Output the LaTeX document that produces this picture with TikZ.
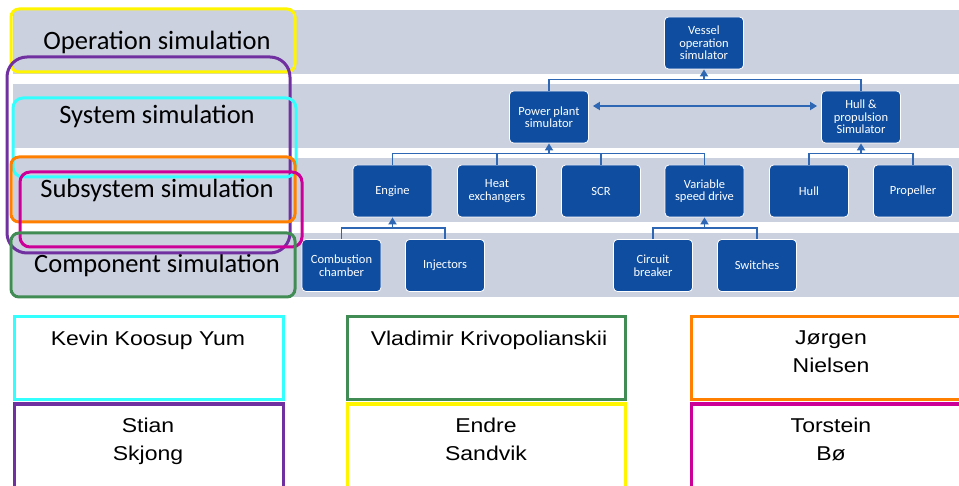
\documentclass[tikz,border=0pt]{standalone}
\usepackage{fontspec}
\setmainfont{Carlito}
\newfontfamily\namefont[FakeStretch=1.15]{Liberation Sans}
\usetikzlibrary{arrows.meta}

\definecolor{band}{RGB}{204,209,224}
\definecolor{boxblue}{RGB}{14,77,160}
\definecolor{linkblue}{RGB}{46,104,180}
\definecolor{ringyellow}{RGB}{255,245,0}
\definecolor{ringpurple}{RGB}{112,48,160}
\definecolor{ringcyan}{RGB}{51,255,255}
\definecolor{ringorange}{RGB}{255,128,0}
\definecolor{ringmagenta}{RGB}{204,0,153}
\definecolor{ringgreen}{RGB}{64,140,84}

\begin{document}
\begin{tikzpicture}[x=1pt, y=-1pt,
    lvl/.style={anchor=base, inner sep=0pt, font=\fontsize{26.5}{31}\selectfont},
    sim/.style={draw=white, line width=0.8pt, fill=boxblue, rounded corners=4pt, text=white, align=center,
                minimum width=79pt, minimum height=52pt, inner sep=1pt, font=\fontsize{12.5}{12.5}\selectfont},
    link/.style={draw=linkblue, line width=1.7pt},
    tip/.tip={Triangle[length=7pt, width=8pt]},
    up/.style={link, -tip},
    ring/.style={line width=3pt},
    who/.style={anchor=north, inner sep=0pt, align=center, font=\namefont\fontsize{20}{27.5}\selectfont}
  ]
  \useasboundingbox (0,0) rectangle (959,486);

  \foreach \y in {10,84,158,233}
    \fill[band] (13,\y) rectangle (959,\y+64);

  \foreach \name/\lbl/\y in {op/{Operation simulation}/50, sys/{System simulation}/124,
                             sub/{Subsystem simulation}/198, comp/{Component simulation}/273}
    \node[lvl] (\name) at (157,\y) {\lbl};

  \node[sim] (vessel) at (704,43) {Vessel\\operation\\simulator};
  \node[sim] (power) at (549,117) {Power plant\\simulator};
  \node[sim] (hullprop) at (861,117) {Hull \&\\propulsion\\Simulator};
  \foreach \name/\lbl/\x in {engine/{Engine}/392.5, heatex/{Heat\\exchangers}/497, scr/{SCR}/601,
                             vsd/{Variable\\speed drive}/704.5, hull/{Hull}/809, prop/{Propeller}/913}
    \node[sim] (\name) at (\x,191) {\lbl};
  \foreach \name/\lbl/\x in {comb/{Combustion\\chamber}/341.5, inj/{Injectors}/445,
                             cb/{Circuit\\breaker}/653, sw/{Switches}/757}
    \node[sim] (\name) at (\x,265.5) {\lbl};

  \draw[link] (power.north) -- ++(0,-11) coordinate (busA) -| (hullprop.north);
  \draw[up] (vessel.south |- busA) -- (vessel.south);
  \draw[link, tip-tip, shorten <=4pt, shorten >=4pt]
    ([yshift=11pt]power.east) -- ([yshift=11pt]hullprop.west);

  \draw[link] (engine.north) -- ++(0,-11) coordinate (busB) -| (vsd.north);
  \foreach \name in {heatex,scr}
    \draw[link] (\name.north) -- (\name.north |- busB);
  \draw[up] (power.south |- busB) -- (power.south);

  \draw[link] (hull.north) -- ++(0,-11) coordinate (busC) -| (prop.north);
  \draw[up] (hullprop.south |- busC) -- (hullprop.south);

  \draw[link] (comb.north) -- ++(0,-11) coordinate (busD) -| (inj.north);
  \draw[up] (engine.south |- busD) -- (engine.south);
  \draw[link] (cb.north) -- ++(0,-11) coordinate (busE) -| (sw.north);
  \draw[up] (vsd.south |- busE) -- (vsd.south);

  \draw[ring, ringyellow, rounded corners=8pt] (11,9) rectangle (295,72);
  \draw[ring, ringpurple, rounded corners=20pt] (7,57) rectangle (290,253);
  \draw[ring, ringcyan, rounded corners=10pt] (13,98) rectangle (296,177);
  \draw[ring, ringorange, rounded corners=8pt] (11,157) rectangle (295,222);
  \draw[ring, ringmagenta, rounded corners=10pt] (20,172) rectangle (302,247);
  \draw[ring, ringgreen, rounded corners=8pt] (11,233) rectangle (295,297);

  \draw[ring, ringcyan] (14,317) rectangle (283,400);
  \draw[ring, ringgreen] (347,317) rectangle (625,400);
  \draw[ring, ringorange] (691,317) rectangle (975,400);
  \draw[ring, ringpurple] (14,404) rectangle (283,500);
  \draw[ring, ringyellow] (347,404) rectangle (625,500);
  \draw[ring, ringmagenta] (691,404) rectangle (975,500);

  \node[who] (kevin) at (148,331) {Kevin Koosup Yum};
  \node[who] (vladimir) at (489,331) {Vladimir Krivopolianskii};
  \node[who] (jorgen) at (831,331) {Jørgen\\Nielsen};
  \node[who] (stian) at (148,418) {Stian\\Skjong};
  \node[who] (endre) at (486,418) {Endre\\Sandvik};
  \node[who] (torstein) at (831,418) {Torstein\\Bø};
\end{tikzpicture}
\end{document}
